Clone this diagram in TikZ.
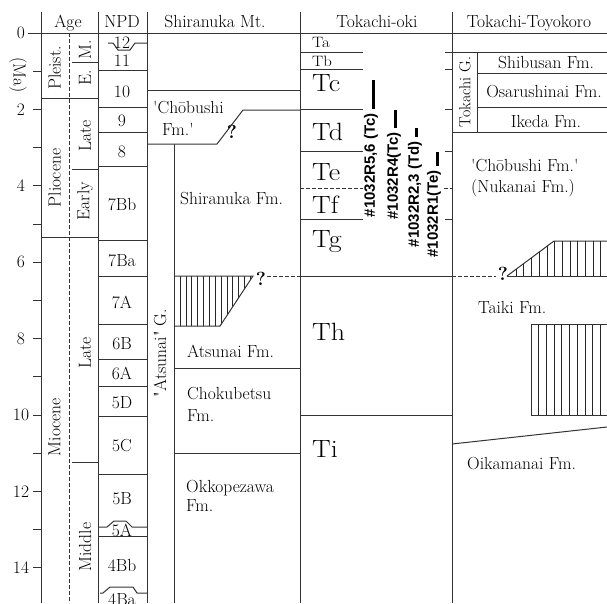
\documentclass[tikz,border=0pt]{standalone}
\usepackage{fontspec}
\usepackage{graphicx}
\newfontfamily\labfont{Liberation Sans}
\newcommand\szmain{\fontsize{17.5}{20}\selectfont}
\newcommand\szbig{\fontsize{25}{28}\selectfont}
\newcommand\szsmall{\fontsize{15}{17}\selectfont}
\newcommand\szlab{\labfont\bfseries\fontsize{15}{17}\selectfont}
\newcommand\wideT[1]{\scalebox{1.12}[1.0]{#1}}
\newcommand\sq{\textquotesingle}
\newcommand\dq{\textquotedbl}
\begin{document}
\begin{tikzpicture}[x=1pt,y=-1pt,
  ln/.style={black!80,line width=1pt},
  hl/.style={black!85,line width=0.6pt},
  dsh/.style={ln,dash pattern=on 3.5pt off 2.5pt},
  bar/.style={black,line width=3pt},
  txt/.style={inner sep=0pt,font=\szmain},
  rot/.style={txt,rotate=90},
  tl/.style={inner sep=0pt,anchor=base west},
  lab/.style={inner sep=0pt,rotate=90,anchor=east,font=\szlab},
  qm/.style={inner sep=0pt,font=\bfseries\fontsize{19}{21}\selectfont}]
\useasboundingbox (0,0) rectangle (607,603);
% ---------- frame ----------
\draw[ln] (41,12) -- (41,603);
\draw[ln] (98,12) -- (98,603);
\draw[ln] (147,12) -- (147,603);
\draw[ln] (300,12) -- (300,603);
\draw[ln] (452,12) -- (452,603);
\draw[dsh] (69,33) -- (69,603);
\draw[ln] (28,33) -- (607,33);
% headers
\node[txt,anchor=base] (hAge) at (68,27) {Age};
\node[txt,anchor=base] (hNPD) at (122,27) {NPD};
\node[txt,anchor=base] (hShi) at (215,27) {Shiranuka Mt.};
\node[txt,anchor=base] (hTok) at (377,27) {Tokachi-oki};
\node[txt,anchor=base] (hToy) at (529,27) {Tokachi-Toyokoro};
% ---------- axis ----------
\foreach \m in {1,...,14} \draw[ln] (33,{33+38.2*\m}) -- (41,{33+38.2*\m});
\foreach \m in {0,2,...,14} \node[txt] (t\m) at (21,{33+38.2*\m}) {\m};
\node[txt,rotate=-90] (ma) at (18,75) {(Ma)};
% ---------- Age ----------
\draw[ln] (41,98) -- (98,98);
\draw[ln] (72,62) -- (98,62);
\draw[ln] (72,169) -- (98,169);
\draw[ln] (41,237) -- (98,237);
\draw[ln] (72,462) -- (98,462);
\node[rot] (pleist) at (54.5,68) {Pleist.};
\node[rot] (mM) at (85,50) {M.};
\node[rot] (eE) at (85,78) {E.};
\node[rot] (lateP) at (85,136) {Late};
\node[rot] (early) at (85,201) {Early};
\node[rot] (plio) at (54.5,178) {Pliocene};
\node[rot] (mio) at (54.5,427) {Miocene};
\node[rot] (lateM) at (85,353) {Late};
\node[rot] (middle) at (85,547) {Middle};
% ---------- NPD ----------
\draw[ln] (108,43) -- (113,43) -- (118,50) -- (130,50) -- (135,43) -- (147,43);
\foreach \yy in {70,107,132,166,240,276,324,359,386,416,474,536}
  \draw[ln] (98,\yy) -- (147,\yy);
\draw[ln] (98,527) -- (107,527) -- (114,521) -- (126,521) -- (132,527) -- (147,527);
\draw[ln] (100,593) -- (103,593) -- (110,587) -- (133,587) -- (137,593) -- (147,593);
\node[txt,anchor=base] (n12) at (122,48) {12};
\node[txt] (n11) at (122,61) {11};
\node[txt] (n10) at (122,91.5) {10};
\node[txt] (n9) at (122,121) {9};
\node[txt] (n8) at (122,152) {8};
\node[txt] (n7Bb) at (122,205) {7Bb};
\node[txt] (n7Ba) at (122,261) {7Ba};
\node[txt] (n7A) at (122,302) {7A};
\node[txt] (n6B) at (122,344) {6B};
\node[txt] (n6A) at (122,373) {6A};
\node[txt] (n5D) at (122,403) {5D};
\node[txt] (n5C) at (122,446) {5C};
\node[txt] (n5B) at (122,499) {5B};
\node[txt] (n5A) at (122,530) {5A};
\node[txt] (n4Bb) at (122,565) {4Bb};
\node[txt,anchor=base] (n4Ba) at (122,605) {4Ba};
% ---------- Shiranuka Mt. ----------
\draw[ln] (147,90) -- (300,90);
\draw[ln] (147,144) -- (217,144) -- (243,110) -- (300,110);
\draw[ln] (174,144) -- (174,603);
\node[txt,tl] (cho1) at (153,113) {\sq Ch\=obushi};
\node[txt,tl] (cho2) at (162,135) {Fm.\sq};
\node[qm] (q1) at (232,132) {?};
\node[txt,tl] (shiF) at (180,204) {Shiranuka Fm.};
\node[rot] (atsG) at (160,353) {\dq Atsunai\dq{} G.};
\begin{scope}
  \clip (174,276) -- (253,276) -- (220,326) -- (174,326) -- cycle;
  \foreach \i in {0,...,13} \draw[hl] ({180+5.85*\i},270) -- ({180+5.85*\i},330);
\end{scope}
\draw[ln] (174,276) -- (253,276) -- (220,326) -- (174,326);
\node[qm] (q2) at (261,279) {?};
\coordinate (d1a) at (267,276);
\coordinate (d1b) at (300,276);
\draw[dsh] (d1a) -- (d1b);
\node[txt,tl] (atsF) at (187,357) {Atsunai Fm.};
\draw[ln] (174,368) -- (300,368);
\node[txt,tl] (cho3) at (187,399) {Chokubetsu};
\node[txt,tl] (cho4) at (187,421) {Fm.};
\draw[ln] (174,453) -- (300,453);
\node[txt,tl] (okk1) at (186,492) {Okkopezawa};
\node[txt,tl] (okk2) at (186,511) {Fm.};
% ---------- Tokachi-oki ----------
\foreach \yy in {52,69,109,151,219} {
  \draw[ln] (300,\yy) -- (363,\yy);
  \draw[ln] (445,\yy) -- (452,\yy);
}
\draw[dsh] (300,188) -- (363,188);
\draw[dsh] (444,188) -- (452,188);
\draw[ln] (300,276) -- (452,276);
\draw[ln] (300,415) -- (452,415);
\node[tl,font=\szsmall] (Ta) at (312,47.5) {\wideT{Ta}};
\node[tl,font=\szsmall] (Tb) at (312,66) {\wideT{Tb}};
\node[tl,font=\szbig] (Tc) at (312,91) {\wideT{Tc}};
\node[tl,font=\szbig] (Td) at (312,140) {\wideT{Td}};
\node[tl,font=\szbig] (Te) at (312,180) {\wideT{Te}};
\node[tl,font=\szbig] (Tf) at (312,213) {\wideT{Tf}};
\node[tl,font=\szbig] (Tg) at (312,247) {\wideT{Tg}};
\node[tl,font=\szbig] (Th) at (312,340) {\wideT{Th}};
\node[tl,font=\szbig] (Ti) at (312,457) {\wideT{Ti}};
\draw[bar] (373,80) -- (373,109);
\draw[bar] (395,110) -- (395,128);
\draw[bar] (416,128) -- (416,137);
\draw[bar] (437,152) -- (437,166);
\node[lab] (r56) at (371,113) {\#1032R5,6 (Tc)};
\node[lab] (r4) at (394,132) {\#1032R4(Tc)};
\node[lab] (r23) at (415,141) {\#1032R2,3 (Td)};
\node[lab] (r1) at (434,170) {\#1032R1(Te)};
% ---------- Tokachi-Toyokoro ----------
\draw[ln] (452,52) -- (607,52);
\draw[ln] (477,73) -- (607,73);
\draw[ln] (477,107) -- (607,107);
\draw[ln] (452,132) -- (607,132);
\draw[ln] (477,52) -- (477,132);
\node[rot,font=\fontsize{16}{18}\selectfont] (tokG) at (465,92) {Tokachi G.};
\node[txt,anchor=base] (shib) at (546,68) {Shibusan Fm.};
\node[txt,anchor=base] (osar) at (544,97) {Osarushinai Fm.};
\node[txt,anchor=base] (iked) at (546,127) {Ikeda Fm.};
\node[txt,tl] (cho5) at (471,171) {\sq Ch\=obushi Fm.\sq};
\node[txt,tl] (nuk) at (471,192) {(Nukanai Fm.)};
\begin{scope}
  \clip (507,276) -- (554,241) -- (607,241) -- (607,276) -- cycle;
  \foreach \i in {0,...,12} \draw[hl] ({516+7.7*\i},236) -- ({516+7.7*\i},280);
\end{scope}
\draw[ln] (507,276) -- (554,241) -- (607,241);
\draw[ln] (507,276) -- (607,276);
\node[qm] (q3) at (503,274) {?};
\coordinate (d2a) at (452,276);
\coordinate (d2b) at (496,276);
\draw[dsh] (d2a) -- (d2b);
\node[txt,tl] (taiki) at (478,313) {Taiki Fm.};
\foreach \i in {0,...,8} \draw[hl] ({538.5+7.75*\i},324) -- ({538.5+7.75*\i},415);
\draw[ln] (607,324) -- (531,324) -- (531,415) -- (607,415);
\draw[ln] (452,444) -- (607,427);
\node[txt,tl] (oika) at (467,469) {Oikamanai Fm.};
\end{tikzpicture}
\end{document}
